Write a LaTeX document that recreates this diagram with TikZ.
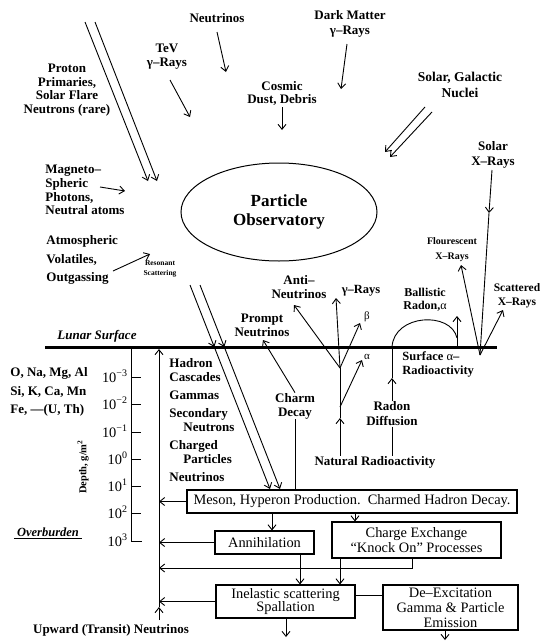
\documentclass[tikz,border=0pt]{standalone}
\usepackage{fontspec}
\setmainfont{Liberation Serif}
\usetikzlibrary{arrows.meta,shapes.geometric}
\newcommand\fb{\fontsize{13}{14}\selectfont\bfseries}
\newcommand\fr{\fontsize{14.4}{14.5}\selectfont}
\begin{document}
\begin{tikzpicture}[x=1pt,y=-1pt,line width=0.9pt,
  arr/.style={-{Straight Barb[length=5pt,width=8pt]}},
  lbl/.style={font=\fb,align=center,inner sep=0pt},
  lbll/.style={font=\fb,align=left,inner sep=0pt,anchor=west},
  box/.style={draw,line width=1.1pt,font=\fr,align=center,inner sep=0pt},
  tick/.style={font=\fr,inner sep=0pt,anchor=base east}]
\useasboundingbox (0,0) rectangle (541,643);

% ---------- upper labels ----------
\node[lbl] (neu) at (217,18) {Neutrinos};
\node[lbl] (tev) at (167,57) {TeV\\γ–Rays};
\node[lbl,font=\fontsize{13}{13.5}\selectfont\bfseries] (prot) at (67,90) {Proton\\Primaries,\\Solar Flare\\Neutrons (rare)};
\node[lbl,font=\fontsize{13}{15}\selectfont\bfseries] (dm) at (350,24) {Dark Matter\\γ–Rays};
\node[lbl,font=\fontsize{13}{13}\selectfont\bfseries] (cos) at (282,93) {Cosmic\\Dust, Debris};
\node[lbl,font=\fontsize{13.5}{16}\selectfont\bfseries] (sgn) at (460,85) {Solar, Galactic\\Nuclei};
\node[lbl,font=\fontsize{13}{15}\selectfont\bfseries] (sxr) at (493,155) {Solar\\X–Rays};
\node[lbll,font=\fontsize{13}{13.8}\selectfont\bfseries] (mag) at (45,190) {Magneto–\\Spheric\\Photons,\\Neutral atoms};
\node[lbll,font=\fontsize{13}{18.5}\selectfont\bfseries] (atm) at (46,260) {Atmospheric\\Volatiles,\\Outgassing};
\node[lbl,font=\fontsize{7.5}{10}\selectfont\bfseries] (res) at (160,269) {Resonant\\Scattering};
\node[draw,ellipse,line width=1pt,minimum width=196pt,minimum height=98pt,
      font=\fontsize{17}{19}\selectfont\bfseries,align=center] (obs) at (279,212) {Particle\\Observatory};

% incoming arrows
\coordinate (neuA) at (217,32); \coordinate (neuB) at (226,72);
\draw[arr] (neuA) -- (neuB);
\coordinate (tevA) at (170,80); \coordinate (tevB) at (190,117);
\draw[arr] (tevA) -- (tevB);
\coordinate (dmA) at (347,44); \coordinate (dmB) at (341,89);
\draw[arr] (dmA) -- (dmB);
\coordinate (cosA) at (282,107); \coordinate (cosB) at (282,130);
\draw[arr] (cosA) -- (cosB);
\coordinate (magA) at (100,187); \coordinate (magB) at (125,191);
\draw[arr] (magA) -- (magB);
\coordinate (atmA) at (113,271); \coordinate (atmB) at (150,254);
\draw[arr] (atmA) -- (atmB);
\coordinate (p1a) at (85,22); \coordinate (p1b) at (148,181);
\coordinate (p2a) at (95,22); \coordinate (p2b) at (157,181);
\draw[arr] (p1a) -- (p1b);
\draw[arr] (p2a) -- (p2b);
\coordinate (g1a) at (425,107); \coordinate (g1b) at (385,152);
\coordinate (g2a) at (432,112); \coordinate (g2b) at (390,157);
\draw[arr] (g1a) -- (g1b);
\draw[arr] (g2a) -- (g2b);

% ---------- lunar surface ----------
\coordinate (ls1) at (45,347); \coordinate (ls2) at (497,347);
\draw[line width=3pt] (ls1) -- (ls2);
\node[lbl,font=\fontsize{13}{14}\selectfont\bfseries\itshape] (lunar) at (97,336) {Lunar Surface};

% X-rays
\coordinate (xa) at (492,170); \coordinate (xb) at (489,213); \coordinate (xv) at (480,355);
\coordinate (xf) at (461,265); \coordinate (xs) at (503,310);
\draw[arr] (xa) -- (xb);
\draw (xb) -- (xv);
\draw[arr] (xv) -- (xf);
\draw[arr] (xv) -- (xs);
\node[lbl,font=\fontsize{10}{15}\selectfont\bfseries] (flour) at (452,250) {Flourescent\\X–Rays};
\node[lbl,font=\fontsize{11.5}{14}\selectfont\bfseries] (scat) at (517,296) {Scattered\\X–Rays};

% radioactivity
\coordinate (v) at (340,368);
\coordinate (tan) at (294,305); \coordinate (tgam) at (336,298); \coordinate (tbet) at (360,323);
\draw[arr] (v) -- (tan);
\draw[arr] (v) -- (tgam);
\draw[arr] (v) -- (tbet);
\node[lbl] (anti) at (299,287) {Anti–\\Neutrinos};
\node[lbl,font=\fontsize{12.5}{14}\selectfont\bfseries] (gray) at (361,291) {γ–Rays};
\node[font=\fontsize{11}{12}\selectfont,inner sep=0pt] (beta) at (367,317) {β};
\node[font=\fontsize{11}{12}\selectfont,inner sep=0pt] (alpha) at (367,357) {α};
\node[lbl] (nat) at (375,462) {Natural Radioactivity};
\coordinate (n2) at (340,418); \coordinate (na) at (340,407); \coordinate (nb) at (362,360);
\draw[arr] (nat.north -| v) -- (n2);
\draw (n2) -- (v);
\draw[arr] (na) -- (nb);

\node[lbl,font=\fontsize{13}{15}\selectfont\bfseries] (radon) at (392,414) {Radon\\Diffusion};
\coordinate (r2) at (392,378); \coordinate (r3) at (392,347);
\draw[arr] (radon.north) -- (r2);
\draw (r2) -- (r3);
\draw (radon.south) -- (nat.north -| radon.south);
\coordinate (bend) at (457,338); \coordinate (bu1) at (457,347); \coordinate (bu2) at (457,316);
\draw (r3) .. controls (394,314) and (451,311) .. (bend);
\draw[arr] (bu1) -- (bu2);
\node[lbl,font=\fontsize{12}{13.5}\selectfont\bfseries] (ball) at (425,300) {Ballistic\\Radon,{\mdseries α}};
\node[lbll,font=\fontsize{12.5}{14}\selectfont\bfseries] (surf) at (402,364) {Surface {\mdseries α}–\\Radioactivity};

% prompt / charm
\node[lbl] (prompt) at (262,325) {Prompt\\Neutrinos};
\node[lbl] (charm) at (295,406) {Charm\\Decay};
\coordinate (pt) at (263,340);
\draw[arr] (charm.north) -- (pt);

% ---------- depth scale ----------
\node[lbll,font=\fontsize{13}{18.5}\selectfont\bfseries] (elem) at (10,392) {O, Na, Mg, Al\\Si, K, Ca, Mn\\Fe, —(U, Th)};
\coordinate (d0) at (131,347); \coordinate (d1) at (131,541); \coordinate (d2) at (142,541);
\draw (d0) -- (d1) -- (d2);
\foreach \yy/\ex in {377/−3,404/−2,432/−1,459/0,486/1,513/2}{
  \draw (131,\yy) -- (141,\yy);
  \node[tick] at (128,\yy+5) {10\textsuperscript{\ex}};
}
\node[tick] (e3) at (128,546) {10\textsuperscript{3}};
\node[rotate=90,font=\fontsize{10.5}{12}\selectfont\bfseries,inner sep=0pt] (depth) at (83,467) {Depth, g/m\textsuperscript{2}};
\node[lbl,font=\fontsize{12.5}{14}\selectfont\bfseries\itshape] (over) at (48,533) {\underline{\ Overburden\ }};

% big upward line
\coordinate (vlt) at (159,349); \coordinate (vlm) at (159,607); \coordinate (vlb) at (159,620);
\draw[arr] (vlb) -- (vlm);
\draw[arr] (vlm) -- (vlt);
\node[lbl] (up) at (111,630) {Upward (Transit) Neutrinos};

\node[lbll] (had) at (169,420) {Hadron\\Cascades\\[4pt]Gammas\\[4pt]Secondary\\\hspace*{14pt}Neutrons\\[4pt]Charged\\\hspace*{14pt}Particles\\[4pt]Neutrinos};

% ---------- boxes ----------
\node[box,minimum width=330pt,minimum height=23pt] (meson) at (352,501.5) {Meson, Hyperon Production.\ \ Charmed Hadron Decay.};
\node[box,minimum width=99pt,minimum height=23pt] (ann) at (264.5,542.5) {Annihilation};
\node[box,minimum width=169pt,minimum height=36pt] (ch) at (416.5,540) {Charge Exchange\\“Knock On” Processes};
\node[box,minimum width=139pt,minimum height=33pt,font=\fontsize{14.4}{13.5}\selectfont] (inel) at (285.5,601.5) {Inelastic scattering\\Spallation};
\node[box,minimum width=135pt,minimum height=45pt,font=\fontsize{14.4}{15}\selectfont] (deex) at (450.5,607.5) {De–Excitation\\Gamma \& Particle\\Emission};

% double line into meson box
\coordinate (q1a) at (190,285); \coordinate (q1s) at (214.3,347); \coordinate (q1b) at (270,489);
\coordinate (q2a) at (200,285); \coordinate (q2s) at (224.3,347); \coordinate (q2b) at (280,489);
\draw[arr] (q1a) -- (q1s); \draw[arr] (q1s) -- (q1b);
\draw[arr] (q2a) -- (q2s); \draw[arr] (q2s) -- (q2b);

\draw (charm.south) -- (charm.south |- meson.north);

% box connectors
\coordinate (c272) at (272,0); \coordinate (c355) at (355,0);
\coordinate (c300) at (300,0); \coordinate (c340) at (340,0);
\coordinate (c286) at (286,637); \coordinate (c445) at (445,640);
\coordinate (k1) at (412,568); \coordinate (c595) at (0,595);
\draw[arr] (meson.west) -- (meson.west -| vlt);
\draw[arr] (ann.west) -- (ann.west -| vlt);
\draw[arr] (meson.south -| c272) -- (ann.north -| c272);
\draw[arr] (meson.south -| c355) -- (ch.north -| c355);
\draw[arr] (ann.south -| c300) -- (inel.north -| c300);
\draw[arr] (ch.south -| c340) -- (inel.north -| c340);
\draw[arr] (ch.south -| k1) -- (k1) -- (k1 -| vlt);
\draw[arr] (inel.west) -- (inel.west -| vlt);
\draw (inel.east |- c595) -- (deex.west |- c595);
\draw[arr] (inel.south -| c286) -- (c286);
\draw[arr] (deex.south -| c445) -- (c445);
\end{tikzpicture}
\end{document}
